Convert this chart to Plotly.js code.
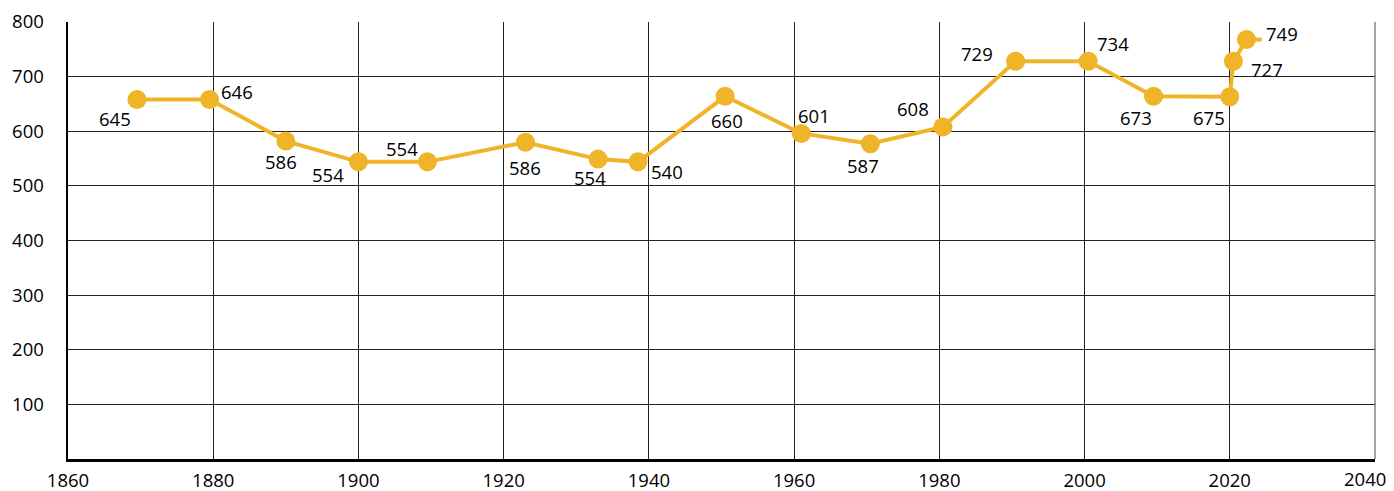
<!DOCTYPE html>
<html>
<head>
<meta charset="utf-8">
<script src="https://cdn.plot.ly/plotly-3.0.1.min.js"></script>
<style>html,body{margin:0;padding:0;background:#fff;}#chart{width:1394px;height:491px;}</style>
</head>
<body>
<div id="chart"></div>
<script>
// Years of the points (last entry is the end of the line, drawn without a marker)
const years = [1869.5, 1879.5, 1890, 1900, 1909.5, 1923, 1933, 1938.5, 1950.5, 1961, 1970.5, 1980.5, 1990.5, 2000.5, 2009.5, 2020, 2020.5, 2022.3, 2024.4];
// Plotted heights
const plotted = [658, 658, 582, 544, 544, 580, 549, 544, 664, 596, 577, 608, 728, 728, 664, 663, 728, 768, 768];
// Data labels as printed in the picture
const labels = ["645", "646", "586", "554", "554", "586", "554", "540", "660", "601", "587", "608", "729", "734", "673", "675", "727", "749"];

const xTicks = [1860, 1880, 1900, 1920, 1940, 1960, 1980, 2000, 2020, 2040];
const yTicks = [100, 200, 300, 400, 500, 600, 700, 800];

// style: label offsets (pixels) from each point, and marker sizes
const labelDx = [-22, 27, -5, -30, -25, 0, -8, 29, 2, 13, -7, -30, -39, 25, -18, -21, 34, 36];
const labelDy = [19, -8, 20, 13, -13, 25, 18, 10, 24, -18, 22, -18, -8, -18, 21, 21, 8, -6];
const markerSizes = years.map((_, i) => i < labels.length ? 19 : 0);

const color = '#F0B429';
const fontFam = 'Open Sans';
const trace = {
  x: years, y: plotted,
  mode: 'lines+markers',
  line: {color: color, width: 4},
  marker: {color: color, size: markerSizes, opacity: 1, line: {width: 0}},
  cliponaxis: false,
  hoverinfo: 'skip'
};

const annotations = labels.map((t, i) => ({
  x: years[i], y: plotted[i], xref: 'x', yref: 'y',
  text: t, showarrow: false,
  xanchor: 'center', yanchor: 'middle',
  xshift: labelDx[i], yshift: -labelDy[i],
  font: {family: fontFam, size: 18.5, color: '#000'}
}));
// last x tick label, pulled inside the page like in the reference
annotations.push({
  x: 2040, y: 0, xref: 'x', yref: 'paper', text: String(xTicks[xTicks.length - 1]),
  showarrow: false, xanchor: 'center', yanchor: 'middle', xshift: -10, yshift: -19,
  font: {family: fontFam, size: 18.5, color: '#000'}
});

const layout = {
  width: 1394, height: 491,
  margin: {l: 68, r: 19, t: 22, b: 32},
  paper_bgcolor: '#fff', plot_bgcolor: '#fff',
  showlegend: false,
  font: {family: fontFam, size: 18.5, color: '#000'},
  xaxis: {
    range: [1860, 2040], tickvals: xTicks,
    ticktext: xTicks.map((v, i) => i === xTicks.length - 1 ? '' : String(v)),
    showgrid: true, gridcolor: '#222', gridwidth: 1,
    showline: true, linecolor: '#000', linewidth: 2.5,
    zeroline: false, ticks: '', ticklabelstandoff: 3,
    tickfont: {family: fontFam, size: 18.5, color: '#000'}
  },
  yaxis: {
    range: [0, 800], tickvals: yTicks, ticktext: yTicks.map(String),
    showgrid: true, gridcolor: '#222', gridwidth: 1,
    showline: true, linecolor: '#000', linewidth: 2.5,
    zeroline: false, ticks: '', ticklabelstandoff: 18,
    tickfont: {family: fontFam, size: 18.5, color: '#000'}
  },
  annotations: annotations,
  shapes: [
    {type: 'line', xref: 'paper', yref: 'paper', x0: 1, x1: 1, y0: 0, y1: 1, line: {color: '#444', width: 1}}
  ]
};

Plotly.newPlot('chart', [trace], layout, {staticPlot: true, displayModeBar: false});
</script>
</body>
</html>
